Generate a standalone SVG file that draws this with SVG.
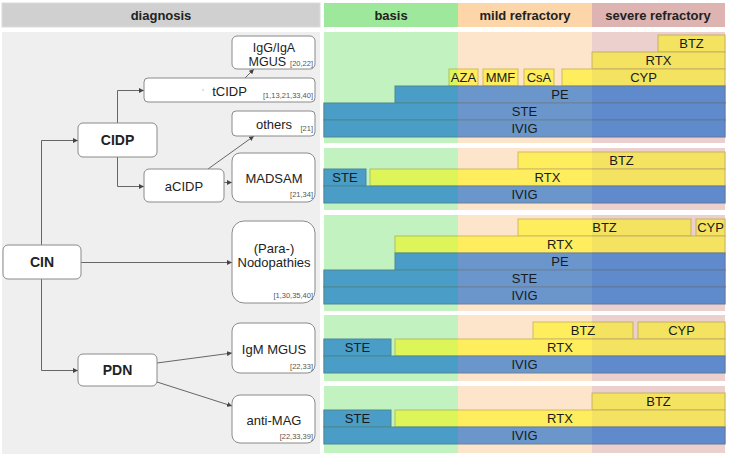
<svg xmlns="http://www.w3.org/2000/svg" width="730" height="456" viewBox="0 0 730 456">
<defs>
<style>
.hdr{font-family:"Liberation Sans",Arial,sans-serif;font-size:13px;font-weight:bold;fill:#222;text-anchor:middle}
.node rect{fill:#fff;stroke:#8a8a8a;stroke-width:1}
.lbl{font-family:"Liberation Sans",Arial,sans-serif;font-size:13px;fill:#222;text-anchor:middle}
.bold{font-weight:bold;font-size:14px}
.ref{font-family:"Liberation Sans",Arial,sans-serif;font-size:7.5px;fill:#555;text-anchor:end}
.conn path{fill:none;stroke:#666;stroke-width:1}
.b{fill:#1d76dd;stroke:#23558f;stroke-width:1}
.y{fill:#fffc37;stroke:#b9ad3a;stroke-width:1}
.t{font-family:"Liberation Sans",Arial,sans-serif;font-size:13px;fill:#1a1a1a;text-anchor:middle}
</style>
<marker id="ar" viewBox="0 0 6 6" refX="6" refY="3" markerWidth="5" markerHeight="5" markerUnits="userSpaceOnUse" orient="auto">
<path d="M0,0 L6,3 L0,6 z" fill="#444"/>
</marker>
</defs>
<rect x="0" y="0" width="730" height="456" fill="#fff"/>
<!-- left panel -->
<rect x="2" y="3" width="318" height="24" fill="#d0d0d0" stroke="#dcdcdc"/>
<text class="hdr" x="161" y="20">diagnosis</text>
<rect x="2" y="32" width="318" height="422" fill="#efefef"/>
<!-- right headers -->
<rect x="324" y="3" width="134" height="24" fill="#9ee89b"/>
<rect x="458" y="3" width="134" height="24" fill="#fcd5a9"/>
<rect x="592" y="3" width="133" height="24" fill="#ddb4b1"/>
<text class="hdr" x="391" y="20">basis</text>
<text class="hdr" x="525" y="20">mild refractory</text>
<text class="hdr" x="658" y="20">severe refractory</text>
<!-- right backgrounds -->
<rect x="324" y="32" width="134" height="421" fill="#d7f8d6"/>
<rect x="458" y="32" width="134" height="421" fill="#feeede"/>
<rect x="592" y="32" width="133" height="421" fill="#f3dfdf"/>
<g id="bars">
<rect class="y" x="658" y="35" width="67" height="17"/>
<rect class="y" x="592" y="52" width="133" height="17"/>
<rect class="y" x="449" y="69" width="29" height="17"/>
<rect class="y" x="483" y="69" width="35" height="17"/>
<rect class="y" x="524" y="69" width="30" height="17"/>
<rect class="y" x="562" y="69" width="163" height="17"/>
<rect class="b" x="395" y="86" width="330" height="17"/>
<rect class="b" x="324" y="103" width="401" height="17"/>
<rect class="b" x="324" y="120" width="401" height="17"/>
<rect class="y" x="518" y="152" width="207" height="17"/>
<rect class="b" x="324" y="169" width="42" height="17"/>
<rect class="y" x="370" y="169" width="355" height="17"/>
<rect class="b" x="324" y="186" width="401" height="17"/>
<rect class="y" x="518" y="219" width="173" height="17"/>
<rect class="y" x="696" y="219" width="29" height="17"/>
<rect class="y" x="395" y="236" width="330" height="17"/>
<rect class="b" x="395" y="253" width="330" height="17"/>
<rect class="b" x="324" y="270" width="401" height="17"/>
<rect class="b" x="324" y="287" width="401" height="17"/>
<rect class="y" x="533" y="322" width="100" height="17"/>
<rect class="y" x="638" y="322" width="87" height="17"/>
<rect class="b" x="324" y="339" width="67" height="17"/>
<rect class="y" x="395" y="339" width="330" height="17"/>
<rect class="b" x="324" y="356" width="401" height="17"/>
<rect class="y" x="592" y="393" width="133" height="17"/>
<rect class="b" x="324" y="410" width="67" height="17"/>
<rect class="y" x="395" y="410" width="330" height="17"/>
<rect class="b" x="324" y="427" width="401" height="17"/>
</g>
<!-- column tint overlays -->
<rect x="324" y="32" width="134" height="421" fill="#9de89a" opacity="0.35"/>
<rect x="458" y="32" width="134" height="421" fill="#fcd4a8" opacity="0.35"/>
<rect x="592" y="32" width="133" height="421" fill="#ddb4b0" opacity="0.35"/>
<!-- white gaps -->
<rect x="322" y="143" width="406" height="5" fill="#fff"/>
<rect x="322" y="210" width="406" height="5" fill="#fff"/>
<rect x="322" y="311" width="406" height="4" fill="#fff"/>
<rect x="322" y="381" width="406" height="5" fill="#fff"/>
<g id="barlabels">
<text class="t" x="691.5" y="48">BTZ</text>
<text class="t" x="658.5" y="65">RTX</text>
<text class="t" x="463.5" y="82">AZA</text>
<text class="t" x="500.5" y="82">MMF</text>
<text class="t" x="539" y="82">CsA</text>
<text class="t" x="643.5" y="82">CYP</text>
<text class="t" x="560" y="99">PE</text>
<text class="t" x="524.5" y="116">STE</text>
<text class="t" x="524.5" y="133">IVIG</text>
<text class="t" x="621.5" y="165">BTZ</text>
<text class="t" x="345" y="182">STE</text>
<text class="t" x="547.5" y="182">RTX</text>
<text class="t" x="524.5" y="199">IVIG</text>
<text class="t" x="604.5" y="232">BTZ</text>
<text class="t" x="710.5" y="232">CYP</text>
<text class="t" x="560" y="249">RTX</text>
<text class="t" x="560" y="266">PE</text>
<text class="t" x="524.5" y="283">STE</text>
<text class="t" x="524.5" y="300">IVIG</text>
<text class="t" x="583" y="335">BTZ</text>
<text class="t" x="681.5" y="335">CYP</text>
<text class="t" x="357.5" y="352">STE</text>
<text class="t" x="560" y="352">RTX</text>
<text class="t" x="524.5" y="369">IVIG</text>
<text class="t" x="658.5" y="406">BTZ</text>
<text class="t" x="357.5" y="423">STE</text>
<text class="t" x="560" y="423">RTX</text>
<text class="t" x="524.5" y="440">IVIG</text>
</g>
<g id="connectors" class="conn">
<path d="M41.5,245 V140.5 H78" marker-end="url(#ar)"/>
<path d="M41.5,279 V370.5 H78" marker-end="url(#ar)"/>
<path d="M81,262.5 H232" marker-end="url(#ar)"/>
<path d="M117.5,123 V90.5 H144" marker-end="url(#ar)"/>
<path d="M117.5,157 V186.5 H144" marker-end="url(#ar)"/>
<path d="M245,78 L254,69" marker-end="url(#ar)"/>
<path d="M208,169 L254,136" marker-end="url(#ar)"/>
<path d="M224,182.5 H232" marker-end="url(#ar)"/>
<path d="M157,363 L232,353" marker-end="url(#ar)"/>
<path d="M157,382 L232,406" marker-end="url(#ar)"/>
</g>
<g id="n-igg" class="node"><rect x="232" y="36" width="83" height="33" rx="5"/>
<text class="lbl" x="274" y="51.5" style="font-size:12.5px">IgG/IgA</text><text class="lbl" x="286" y="66" style="text-anchor:end;font-size:12.5px">MGUS</text><text class="ref" x="313" y="66">[20,22]</text></g>
<g id="n-tcidp" class="node"><rect x="144" y="78" width="171" height="24" rx="4"/>
<circle cx="203" cy="90" r="1.3" fill="#e2e2e2"/>
<text class="lbl" x="229.5" y="96">tCIDP</text><text class="ref" x="313" y="98">[1,13,21,33,40]</text></g>
<g id="n-others" class="node"><rect x="232" y="111" width="83" height="25" rx="4"/>
<text class="lbl" x="274" y="129">others</text><text class="ref" x="313" y="131">[21]</text></g>
<g id="n-cidp" class="node"><rect x="78" y="123" width="79" height="34" rx="5"/>
<text class="lbl bold" x="117.5" y="145">CIDP</text></g>
<g id="n-acidp" class="node"><rect x="144" y="169" width="80" height="33" rx="5"/>
<text class="lbl" x="184" y="191">aCIDP</text></g>
<g id="n-madsam" class="node"><rect x="232" y="153" width="83" height="49" rx="8"/>
<text class="lbl" x="274" y="183">MADSAM</text><text class="ref" x="313" y="197">[21,34]</text></g>
<g id="n-cin" class="node"><rect x="3" y="245" width="78" height="34" rx="5"/>
<text class="lbl bold" x="42" y="267">CIN</text></g>
<g id="n-nodo" class="node"><rect x="232" y="221" width="83" height="82" rx="12"/>
<text class="lbl" x="274" y="253">(Para-)</text><text class="lbl" x="274" y="267">Nodopathies</text><text class="ref" x="313" y="298">[1,30,35,40]</text></g>
<g id="n-pdn" class="node"><rect x="78" y="354" width="79" height="32" rx="5"/>
<text class="lbl bold" x="117.5" y="375">PDN</text></g>
<g id="n-igm" class="node"><rect x="232" y="323" width="83" height="50" rx="8"/>
<text class="lbl" x="274" y="354">IgM MGUS</text><text class="ref" x="313" y="369">[22,33]</text></g>
<g id="n-mag" class="node"><rect x="232" y="395" width="83" height="48" rx="8"/>
<text class="lbl" x="274" y="425">anti-MAG</text><text class="ref" x="313" y="439">[22,33,39]</text></g>
</svg>
